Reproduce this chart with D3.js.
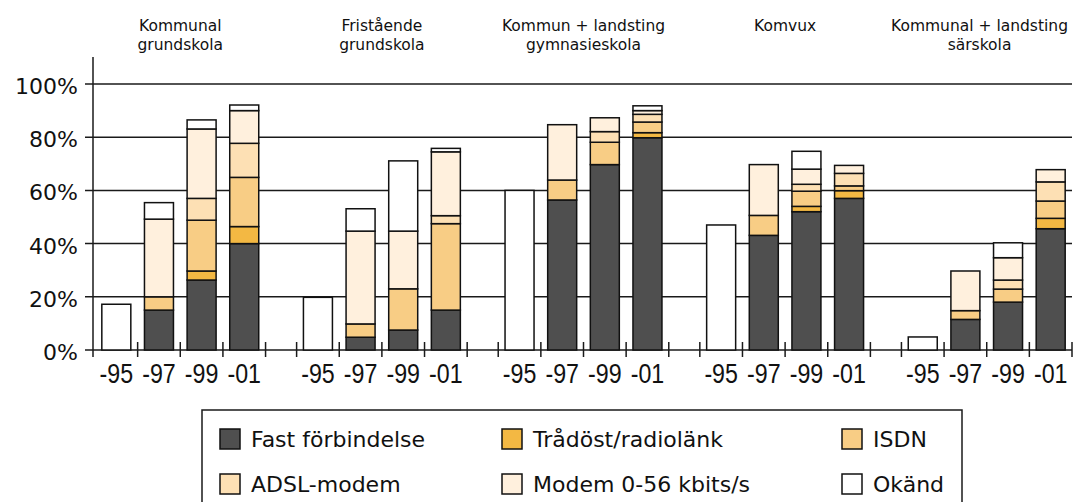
<!DOCTYPE html>
<html>
<head>
<meta charset="utf-8">
<script src="https://cdn.jsdelivr.net/npm/d3@7"></script>
<style>
  body { margin: 0; background: #fff; }
  text { font-family: "DejaVu Sans", sans-serif; fill: #111; }
  .xlab { font-family: "Liberation Sans", Arial, sans-serif; }
</style>
</head>
<body>
<svg id="chart" width="1076" height="502"></svg>
<script>
// School types, shown as two-line titles over each group
var groups = ["Kommunal grundskola", "Fristående grundskola", "Kommun + landsting gymnasieskola", "Komvux", "Kommunal + landsting särskola"];
var groupTitles = [["Kommunal", "grundskola"], ["Fristående", "grundskola"], ["Kommun + landsting", "gymnasieskola"], ["Komvux"], ["Kommunal + landsting", "särskola"]];
var years = ["-95", "-97", "-99", "-01"];
var yTicks = [0, 20, 40, 60, 80, 100];

var seriesNames = ["Fast förbindelse", "Trådöst/radiolänk", "ISDN", "ADSL-modem", "Modem 0-56 kbits/s", "Okänd"];
var seriesColors = ["#4f4f4f", "#f3b843", "#f8cd85", "#fde0b4", "#fff0dd", "#ffffff"];

// values per group, years -95, -97, -99, -01 (percent)
var fast     = [0, 15, 26.3, 40,   0, 4.8, 7.5, 15,   0, 56.4, 69.7, 79.8,   0, 43.1, 52, 57,   0, 11.5, 18, 45.6];
var tradlost = [0, 0, 3.4, 6.4,    0, 0, 0, 0,        0, 0, 0, 1.9,          0, 0, 2, 2.9,      0, 0, 0, 3.9];
var isdn     = [0, 5, 19.1, 18.5,  0, 5, 15.5, 32.5,  0, 7.5, 8.4, 4,        0, 7.5, 5.7, 1.8,  0, 3.3, 4.9, 6.5];
var adsl     = [0, 0, 8.2, 12.8,   0, 0, 0, 3,        0, 0, 4, 2.9,          0, 0, 2.6, 4.7,    0, 0, 3.4, 7.2];
var modem    = [0, 29.2, 26.1, 12.3, 0, 34.9, 21.7, 24, 0, 20.8, 5.2, 1.4,   0, 19.1, 5.7, 3,   0, 14.9, 8.4, 4.6];
var okand    = [17.2, 6.2, 3.4, 2.1, 19.8, 8.4, 26.4, 1.3, 60, 0, 0, 1.8,    47, 0, 6.7, 0,     4.9, 0, 5.6, 0];

var seriesValues = [fast, tradlost, isdn, adsl, modem, okand];

// build rows for d3.stack
var rows = [];
groups.forEach(function (g, gi) {
    years.forEach(function (yr, yi) {
        var row = { group: g, year: yr };
        seriesNames.forEach(function (s, si) {
            row[s] = seriesValues[si][gi * years.length + yi];
        });
        rows.push(row);
    });
});

var svg = d3.select("#chart");

var x0 = d3.scaleBand().domain(groups).range([95, 1072]).paddingInner(0.154).paddingOuter(0);
var x1 = d3.scaleBand().domain(years).range([0, x0.bandwidth()]).paddingInner(0.32).paddingOuter(0.16);
var y = d3.scaleLinear().domain([0, 100]).range([350, 84]);

var axisX = 93, axisRight = 1072;

// gridlines
svg.append("g")
    .selectAll("line")
    .data(yTicks)
    .join("line")
    .attr("x1", axisX - 8)
    .attr("x2", axisRight)
    .attr("y1", d => y(d))
    .attr("y2", d => y(d))
    .attr("stroke", "#1a1a1a")
    .attr("stroke-width", 1.5);

// y tick labels
svg.append("g")
    .selectAll("text")
    .data(yTicks)
    .join("text")
    .attr("x", 78)
    .attr("y", d => y(d) + 10)
    .attr("text-anchor", "end")
    .attr("font-size", 22)
    .text(d => d + "%");

// y axis line
svg.append("line")
    .attr("x1", axisX).attr("x2", axisX)
    .attr("y1", 57).attr("y2", 357)
    .attr("stroke", "#1a1a1a")
    .attr("stroke-width", 1.5);

// x ticks at slot boundaries
var tickXs = [];
groups.forEach(function (g) {
    var step = x1.step();
    for (var k = 0; k <= years.length; k++) tickXs.push(x0(g) + k * step);
});
svg.append("g")
    .selectAll("line")
    .data(tickXs.filter(t => t > axisX + 5))
    .join("line")
    .attr("x1", d => d).attr("x2", d => d)
    .attr("y1", 342).attr("y2", 357)
    .attr("stroke", "#1a1a1a")
    .attr("stroke-width", 1.5);

// stacked bars
var stack = d3.stack().keys(seriesNames);
var stacked = stack(rows);

svg.append("g")
    .selectAll("g")
    .data(stacked)
    .join("g")
    .attr("fill", (d, i) => seriesColors[i])
    .selectAll("rect")
    .data(d => d.filter(p => p[1] - p[0] > 0))
    .join("rect")
    .attr("x", d => x0(d.data.group) + x1(d.data.year))
    .attr("width", x1.bandwidth())
    .attr("y", d => y(d[1]))
    .attr("height", d => y(d[0]) - y(d[1]))
    .attr("stroke", "#111")
    .attr("stroke-width", 1.5);

// x labels (condensed look: squeeze horizontally)
svg.append("g")
    .selectAll("text")
    .data(rows)
    .join("text")
    .attr("class", "xlab")
    .attr("transform", d => `translate(${x0(d.group) + x1(d.year) + x1.bandwidth() / 2}, 383) scale(0.86, 1)`)
    .attr("text-anchor", "middle")
    .attr("font-size", 27)
    .text(d => d.year);

// group titles
groups.forEach(function (g, gi) {
    var cx = x0(g) + x0.bandwidth() / 2;
    var t = svg.append("text")
        .attr("text-anchor", "middle")
        .attr("font-size", 15.5);
    groupTitles[gi].forEach(function (line, li) {
        t.append("tspan")
            .attr("x", cx)
            .attr("y", 31 + li * 19)
            .text(line);
    });
    // keep the title inside the right edge
    var w = t.node().getBBox().width;
    if (cx + w / 2 > 1068) {
        t.selectAll("tspan").attr("x", 1068 - w / 2);
    }
});

// legend
svg.append("rect")
    .attr("x", 202).attr("y", 410)
    .attr("width", 760).attr("height", 110)
    .attr("fill", "none")
    .attr("stroke", "#1a1a1a")
    .attr("stroke-width", 1.5);

var legendCols = [220, 502, 842];
var legendRows = [429, 474];
var legend = svg.append("g")
    .selectAll("g")
    .data(seriesNames)
    .join("g")
    .attr("transform", (d, i) => `translate(${legendCols[i % 3]}, ${legendRows[Math.floor(i / 3)]})`);

legend.append("rect")
    .attr("width", 20).attr("height", 20)
    .attr("fill", (d, i) => seriesColors[i])
    .attr("stroke", "#111")
    .attr("stroke-width", 1.5);

legend.append("text")
    .attr("x", 31)
    .attr("y", 18)
    .attr("font-size", 22)
    .text(d => d);
</script>
</body>
</html>
